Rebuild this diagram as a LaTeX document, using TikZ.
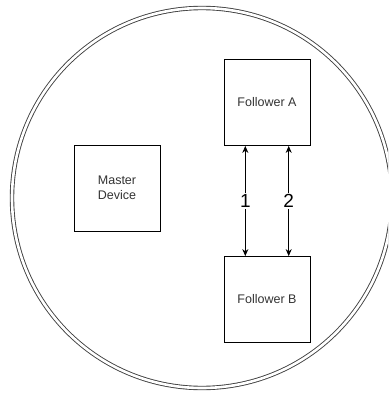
\documentclass[tikz,border=0pt]{standalone}
\usepackage{fontspec}
\setmainfont{Liberation Sans}
\usetikzlibrary{calc,arrows.meta}
\tikzset{
  device/.style={draw=black, line width=0.8pt, minimum width=86pt, minimum height=86pt,
    inner sep=0pt, align=center, text=black!80, font=\fontsize{12.5}{15}\selectfont},
  link/.style={draw=black, line width=0.8pt, {Stealth[length=7pt,width=6pt]}-{Stealth[length=7pt,width=6pt]}},
  linklabel/.style={fill=white, inner sep=1.5pt, text=black, font=\fontsize{19}{22}\selectfont},
  rim/.style={draw=black!75, line width=0.9pt, double=white, double distance=2.6pt}
}
\begin{document}
\begin{tikzpicture}[x=1pt,y=-1pt]
  \useasboundingbox (0,0) rectangle (388,393);
  \begin{scope}
    \clip (0,0) rectangle (388,393);
    \draw[rim] (202,198) circle[radius=190];
  \end{scope}

  \node[device] (master) at (117,188) {Master\\Device};
  \node[device] (fa) at (267,102.5) {Follower A};
  \node[device] (fb) at (267,299.5) {Follower B};

  \draw[link] ($(fa.south west)!0.25!(fa.south east)$) -- ($(fb.north west)!0.25!(fb.north east)$)
    node[midway, linklabel] (l1) {1};
  \draw[link] ($(fa.south west)!0.75!(fa.south east)$) -- ($(fb.north west)!0.75!(fb.north east)$)
    node[midway, linklabel] (l2) {2};
\end{tikzpicture}
\end{document}
